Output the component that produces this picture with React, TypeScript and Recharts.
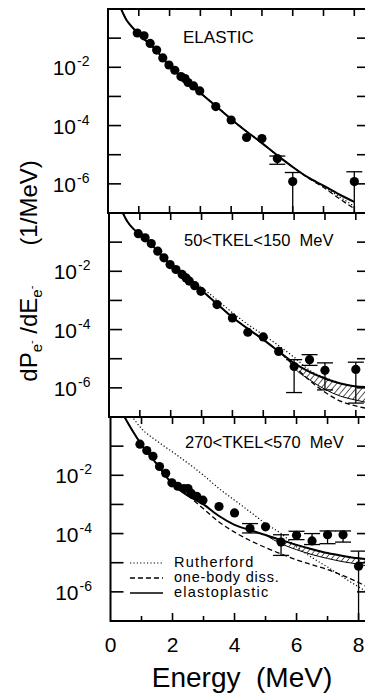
import React from 'react';
import { ComposedChart, Line, Scatter, Area, XAxis, YAxis, ErrorBar, ReferenceArea } from 'recharts';

// ---------- tick labels / texts ----------
const panelLabels = ['ELASTIC', '50<TKEL<150  MeV', '270<TKEL<570  MeV'];
const legendLabels = ['Rutherford', 'one-body diss.', 'elastoplastic'];
const xTicks = [1, 2, 3, 4, 5, 6, 7, 8];
const xLabelTicks = [0, 2, 4, 6, 8];
const yTicks = [1e-1, 1e-2, 1e-3, 1e-4, 1e-5, 1e-6];
const yLabelTicks = [1e-2, 1e-4, 1e-6];

// ---------- panel 1 : ELASTIC ----------
const elE = [0.95, 1.17, 1.37, 1.58, 1.78, 1.98, 2.17, 2.37, 2.5, 2.6, 2.78, 2.98, 3.5, 4.0, 4.5, 5.0, 5.5, 6.0, 8.0];
const elV = [1.5e-1, 1.2e-1, 6.6e-2, 3.9e-2, 2.1e-2, 1.2e-2, 7.9e-3, 4.8e-3, 4.1e-3, 3.0e-3, 2.3e-3, 1.55e-3, 4.5e-4, 1.55e-4, 3.9e-5, 3.6e-5, 7.4e-6, 1.2e-6, 1.2e-6];
const elErrLo = [null, null, null, null, null, null, null, null, null, null, null, null, null, null, null, null, 4.7e-6, 1e-7, 1e-7];
const elErrHi = [null, null, null, null, null, null, null, null, null, null, null, null, null, null, null, null, 9e-6, 2.45e-6, 2.6e-6];
const elCurveE = [0.4, 0.6, 0.8, 1, 1.5, 2, 2.5, 3, 3.5, 4, 4.5, 5, 5.5, 6, 6.5, 7, 7.5, 8];
const elSolid = [1.15, 0.42, 0.23, 0.138, 0.045, 0.0112, 3.5e-3, 1.32e-3, 4.7e-4, 1.66e-4, 6.3e-5, 2.5e-5, 9.5e-6, 3.8e-6, 1.66e-6, 8.7e-7, 4.4e-7, 2.4e-7];
const elDashed = [1.15, 0.42, 0.23, 0.138, 0.045, 0.0112, 3.5e-3, 1.32e-3, 4.7e-4, 1.66e-4, 6.3e-5, 2.5e-5, 9.5e-6, 3.8e-6, 1.6e-6, 7.6e-7, 3.2e-7, 1.4e-7];
const elDotted = [1.15, 0.42, 0.23, 0.138, 0.045, 0.0112, 3.5e-3, 1.32e-3, 4.7e-4, 1.66e-4, 6.3e-5, 2.5e-5, 9.5e-6, 3.8e-6, 1.62e-6, 8.0e-7, 3.7e-7, 1.7e-7];

// ---------- panel 2 : 50<TKEL<150 MeV ----------
const t1E = [0.95, 1.17, 1.37, 1.58, 1.78, 1.98, 2.17, 2.37, 2.5, 2.6, 2.78, 2.98, 3.5, 4.0, 4.5, 5.0, 5.5, 6.0, 6.5, 7.0, 8.0];
const t1V = [1.95e-1, 1.41e-1, 8.9e-2, 4.9e-2, 2.9e-2, 1.7e-2, 1.15e-2, 7.8e-3, 5.9e-3, 4.6e-3, 3.2e-3, 2.05e-3, 7.2e-4, 2.5e-4, 8.1e-5, 5.6e-5, 1.78e-5, 5.4e-6, 9.3e-6, 4.0e-6, 4.3e-6];
const t1ErrLo = [null, null, null, null, null, null, null, null, null, null, null, null, null, null, null, null, null, 6.9e-7, 5.9e-6, 8.5e-7, 3e-7];
const t1ErrHi = [null, null, null, null, null, null, null, null, null, null, null, null, null, null, null, null, null, 9.3e-6, 1.38e-5, 7.2e-6, 7.6e-6];
const t1CurveE = [0.42, 0.6, 0.8, 1, 1.5, 2, 2.5, 3, 3.5, 4, 4.5, 5, 5.5, 6, 6.5, 7, 7.5, 8, 8.33];
const t1Solid = [1.15, 0.5, 0.28, 0.19, 0.06, 0.0166, 6.3e-3, 2.24e-3, 7.6e-4, 2.63e-4, 1.07e-4, 4.5e-5, 1.78e-5, 7.1e-6, 3.55e-6, 2.1e-6, 1.41e-6, 1.12e-6, 1.07e-6];
const t1Dashed = [1.15, 0.5, 0.28, 0.19, 0.06, 0.0166, 6.3e-3, 2.24e-3, 7.6e-4, 2.63e-4, 1.07e-4, 4.5e-5, 1.78e-5, 5.6e-6, 1.8e-6, 7.1e-7, 3.5e-7, 2.4e-7, 2.0e-7];
const t1Dotted = [1.15, 0.5, 0.28, 0.19, 0.06, 0.0166, 7.1e-3, 2.8e-3, 1.05e-3, 3.8e-4, 1.5e-4, 6.6e-5, 2.8e-5, 1.12e-5, 4.0e-6, 2.24e-6, 1.48e-6, 1.12e-6, 1.07e-6];
const t1BandE = [5.8, 6, 6.5, 7, 7.5, 8, 8.33];
const t1BandLo = [1.0e-5, 5.0e-6, 1.9e-6, 8.9e-7, 5.2e-7, 3.8e-7, 3.2e-7];
const t1BandHi = [1.0e-5, 7.1e-6, 3.55e-6, 2.1e-6, 1.41e-6, 1.12e-6, 1.07e-6];

// ---------- panel 3 : 270<TKEL<570 MeV ----------
const t2E = [0.95, 1.17, 1.37, 1.58, 1.78, 1.98, 2.17, 2.37, 2.5, 2.6, 2.78, 2.98, 3.5, 4.0, 4.5, 5.0, 5.5, 6.0, 6.5, 7.0, 7.5, 8.0];
const t2V = [1.17e-1, 7.1e-2, 4.5e-2, 2.0e-2, 1.17e-2, 5.5e-3, 4.2e-3, 3.5e-3, 3.5e-3, 2.4e-3, 1.9e-3, 1.4e-3, 8.5e-4, 5.1e-4, 1.48e-4, 1.7e-4, 5.1e-5, 8.7e-5, 5.6e-5, 9.1e-5, 9.1e-5, 7.6e-6];
const t2ErrLo = [null, null, null, null, null, null, null, null, null, null, null, null, null, null, 1.05e-4, null, 1.78e-5, 6.2e-5, 4.2e-5, 4.5e-5, 5.1e-5, 1e-7];
const t2ErrHi = [null, null, null, null, null, null, null, null, null, null, null, null, null, null, 2.2e-4, null, 9.1e-5, 1.2e-4, 1.0e-4, 1.23e-4, 1.23e-4, 2.5e-5];
const t2CurveE = [0.42, 0.7, 1, 1.5, 2, 2.5, 3, 3.5, 4, 4.5, 5, 5.5, 6, 6.5, 7, 7.5, 8, 8.24];
const t2Solid = [1.15, 0.35, 0.112, 0.024, 5.0e-3, 2.0e-3, 1.0e-3, 4.0e-4, 2.0e-4, 1.32e-4, 8.9e-5, 6.0e-5, 4.1e-5, 2.9e-5, 2.14e-5, 1.7e-5, 1.41e-5, 1.32e-5];
const t2Dashed = [1.15, 0.35, 0.112, 0.024, 5.0e-3, 2.0e-3, 7.1e-4, 2.5e-4, 1.12e-4, 5.8e-5, 3.3e-5, 2.0e-5, 1.26e-5, 8.5e-6, 5.8e-6, 3.6e-6, 2.1e-6, 1.55e-6];
const t2DottedE = [0.68, 1, 1.5, 2, 2.5, 3, 3.5, 4, 4.5, 5, 5.5, 6, 6.5, 7, 7.5, 8, 8.24];
const t2Dotted = [1.1, 0.4, 0.15, 0.063, 0.026, 0.01, 3.5e-3, 1.4e-3, 5.6e-4, 2.2e-4, 1.0e-4, 3.5e-5, 1.5e-5, 7.1e-6, 3.2e-6, 1.48e-6, 1.05e-6];
const t2BandE = [5, 5.5, 6, 6.5, 7, 7.5, 8, 8.24];
const t2BandLo = [8.9e-5, 4.5e-5, 2.8e-5, 1.9e-5, 1.4e-5, 1.08e-5, 8.9e-6, 7.9e-6];
const t2BandHi = [8.9e-5, 6.0e-5, 4.1e-5, 2.9e-5, 2.14e-5, 1.7e-5, 1.41e-5, 1.32e-5];

// ---------- helpers to build library tables ----------
const mkPoints = (E: number[], V: number[], lo: (number | null)[], hi: (number | null)[]) =>
  E.map((x, i) => {
    const o: any = { x, y: V[i] };
    if (lo[i] != null && hi[i] != null) o.err = [V[i] - (lo[i] as number), (hi[i] as number) - V[i]];
    return o;
  });
const mkCurve = (E: number[], V: number[]) => E.map((x, i) => ({ x, y: V[i] }));
const mkBand = (E: number[], lo: number[], hi: number[]) => E.map((x, i) => ({ x, band: [lo[i], hi[i]] }));

const FONT = '"Liberation Sans", Arial, sans-serif';
const YDOM: [number, number] = [1e-7, 1];
const RIGHT = 366;
const PLOT_H = 204;

// panel frames (layout only)
const frames = [
  { top: 9, L: 108, xMax: 8.38, labels: false },
  { top: 213, L: 109, xMax: 8.33, labels: false },
  { top: 417, L: 110.5, xMax: 8.24, labels: true },
];

const yLabel = (p: any) => {
  const exp = Math.round(Math.log10(p.payload.value));
  return (
    <g>
      <text x={p.x - 32} y={p.y + 8} textAnchor="end" fontFamily={FONT} fontSize={21} fill="#000" stroke="none">10</text>
      <text x={p.x - 31} y={p.y - 1} textAnchor="start" fontFamily={FONT} fontSize={14} fill="#000" stroke="none">{String(exp)}</text>
    </g>
  );
};
const xLabel = (p: any) => (
  <text x={p.x} y={p.y + 31} textAnchor="middle" fontFamily={FONT} fontSize={21} fill="#000" stroke="none">{p.payload.value}</text>
);

const Dot = (p: any) => <circle cx={p.cx} cy={p.cy} r={4.6} fill="#000" />;

type PanelProps = {
  top: number;
  L: number;
  xMax: number;
  points: any[];
  solid: any[];
  dashed: any[];
  dotted: any[];
  band?: any[];
  bottomLabels?: boolean;
};

function Panel({ top, L, xMax, points, solid, dashed, dotted, band, bottomLabels }: PanelProps) {
  const bottomH = bottomLabels ? 72 : 10;
  const height = 10 + PLOT_H + bottomH;
  const xProps: any = { dataKey: 'x', type: 'number', domain: [0, xMax], allowDataOverflow: true, interval: 0, tickSize: 0, tickMargin: 0, tickLine: false, axisLine: false };
  const yProps: any = { dataKey: 'y', type: 'number', scale: 'log', domain: YDOM, allowDataOverflow: true, interval: 0, tickSize: 0, tickMargin: 0, tickLine: false, axisLine: false };
  return (
    <div style={{ position: 'absolute', left: 0, top }}>
      <ComposedChart width={370} height={height} margin={{ top: 10, right: 370 - RIGHT, bottom: 0, left: 0 }}>
        <XAxis xAxisId="b" {...xProps} orientation="bottom" height={bottomH} ticks={xLabelTicks}
          tick={bottomLabels ? xLabel : false} />
        <YAxis yAxisId="l" {...yProps} orientation="left" width={L} ticks={yLabelTicks} tick={yLabel} />

        <ReferenceArea xAxisId="b" yAxisId="l" x1={0} x2={xMax} y1={YDOM[0]} y2={YDOM[1]} ifOverflow="visible"
          fill="none" fillOpacity={0} stroke="#000" strokeWidth={2} />

        {band && (
          <Area xAxisId="b" yAxisId="l" data={band} dataKey="band" type="monotone" fill="url(#hatch)" fillOpacity={1}
            stroke="#000" strokeWidth={1} isAnimationActive={false} dot={false} activeDot={false} />
        )}
        <Line xAxisId="b" yAxisId="l" data={dotted} dataKey="y" type="monotone" stroke="#000" strokeWidth={1.2}
          strokeDasharray="1.2 2.2" dot={false} activeDot={false} isAnimationActive={false} />
        <Line xAxisId="b" yAxisId="l" data={dashed} dataKey="y" type="monotone" stroke="#000" strokeWidth={1.3}
          strokeDasharray="5 3" dot={false} activeDot={false} isAnimationActive={false} />
        <Line xAxisId="b" yAxisId="l" data={solid} dataKey="y" type="monotone" stroke="#000" strokeWidth={2}
          dot={false} activeDot={false} isAnimationActive={false} />
        <Scatter xAxisId="b" yAxisId="l" data={points} shape={<Dot />} fill="#000" isAnimationActive={false}>
          <ErrorBar dataKey="err" direction="y" width={8} stroke="#000" strokeWidth={1.3} />
        </Scatter>
      </ComposedChart>
    </div>
  );
}

// inward frame tick marks (axis furniture), placed from the tick value lists
function FrameTicks() {
  const items: React.ReactNode[] = [];
  frames.forEach((f, i) => {
    const kx = (RIGHT - f.L) / f.xMax;
    const dec = PLOT_H / 7;
    const bottom = f.top + PLOT_H;
    xTicks.forEach((v) => {
      const x = f.L + v * kx;
      const len = f.labels ? (v % 2 === 0 ? 8 : 5) : 7;
      items.push(<line key={`b${i}-${v}`} x1={x} y1={bottom} x2={x} y2={bottom - len} stroke="#000" strokeWidth={1.6} />);
      items.push(<line key={`t${i}-${v}`} x1={x} y1={f.top} x2={x} y2={f.top + 7} stroke="#000" strokeWidth={1.6} />);
    });
    yTicks.forEach((v) => {
      const y = f.top - Math.log10(v) * dec;
      items.push(<line key={`l${i}-${v}`} x1={f.L} y1={y} x2={f.L + 13} y2={y} stroke="#000" strokeWidth={1.6} />);
      items.push(<line key={`r${i}-${v}`} x1={RIGHT - 9} y1={y} x2={RIGHT} y2={y} stroke="#000" strokeWidth={1.6} />);
    });
  });
  return <g>{items}</g>;
}

export default function App() {
  return (
    <div style={{ position: 'absolute', left: 0, top: 0, width: 365, height: 693, overflow: 'hidden', background: '#fff' }}>
      <Panel top={frames[0].top - 10} L={frames[0].L} xMax={frames[0].xMax}
        points={mkPoints(elE, elV, elErrLo, elErrHi)}
        solid={mkCurve(elCurveE, elSolid)} dashed={mkCurve(elCurveE, elDashed)} dotted={mkCurve(elCurveE, elDotted)} />
      <Panel top={frames[1].top - 10} L={frames[1].L} xMax={frames[1].xMax}
        points={mkPoints(t1E, t1V, t1ErrLo, t1ErrHi)}
        solid={mkCurve(t1CurveE, t1Solid)} dashed={mkCurve(t1CurveE, t1Dashed)} dotted={mkCurve(t1CurveE, t1Dotted)}
        band={mkBand(t1BandE, t1BandLo, t1BandHi)} />
      <Panel top={frames[2].top - 10} L={frames[2].L} xMax={frames[2].xMax} bottomLabels
        points={mkPoints(t2E, t2V, t2ErrLo, t2ErrHi)}
        solid={mkCurve(t2CurveE, t2Solid)} dashed={mkCurve(t2CurveE, t2Dashed)} dotted={mkCurve(t2DottedE, t2Dotted)}
        band={mkBand(t2BandE, t2BandLo, t2BandHi)} />

      <svg width={365} height={693} style={{ position: 'absolute', left: 0, top: 0, pointerEvents: 'none' }}>
        <defs>
          <pattern id="hatch" patternUnits="userSpaceOnUse" width={4.5} height={4.5} patternTransform="rotate(40)">
            <rect x={0} y={0} width={4.5} height={4.5} fill="#fff" />
            <line x1={0} y1={0} x2={0} y2={4.5} stroke="#000" strokeWidth={1.3} />
          </pattern>
        </defs>
        <FrameTicks />
        {/* panel labels */}
        <text x={183} y={43} fontFamily={FONT} fontSize={17} fill="#000">{panelLabels[0]}</text>
        <text x={184} y={246} fontFamily={FONT} fontSize={16.5} fill="#000" xmlSpace="preserve" style={{ whiteSpace: 'pre' }}>{panelLabels[1]}</text>
        <text x={185} y={448} fontFamily={FONT} fontSize={16.5} fill="#000" xmlSpace="preserve" style={{ whiteSpace: 'pre' }}>{panelLabels[2]}</text>
        {/* legend */}
        <line x1={130} y1={563} x2={163} y2={563} stroke="#000" strokeWidth={1.2} strokeDasharray="1.2 2.2" />
        <line x1={130} y1={578} x2={163} y2={578} stroke="#000" strokeWidth={1.3} strokeDasharray="5 3" />
        <line x1={130} y1={593} x2={163} y2={593} stroke="#000" strokeWidth={1.6} />
        <text x={174} y={567} fontFamily={FONT} fontSize={14.5} letterSpacing={1.2} fill="#000">{legendLabels[0]}</text>
        <text x={174} y={582} fontFamily={FONT} fontSize={14.5} letterSpacing={0.8} fill="#000">{legendLabels[1]}</text>
        <text x={174} y={597} fontFamily={FONT} fontSize={14.5} letterSpacing={1.2} fill="#000">{legendLabels[2]}</text>
        {/* axis titles */}
        <text transform="translate(37,271) rotate(-90)" textAnchor="middle" fontFamily={FONT} fontSize={24} fill="#000"
          xmlSpace="preserve" style={{ whiteSpace: 'pre' }}>
          dP<tspan fontSize={15} dy={5}>e</tspan><tspan fontSize={11} dy={-7}>-</tspan><tspan fontSize={24} dy={2}> /dE</tspan><tspan fontSize={15} dy={5}>e</tspan><tspan fontSize={11} dy={-7}>-</tspan><tspan fontSize={24} dy={2}>      (1/MeV)</tspan>
        </text>
        <text x={242} y={687} textAnchor="middle" fontFamily={FONT} fontSize={28} fill="#000" xmlSpace="preserve" style={{ whiteSpace: 'pre' }}>Energy  (MeV)</text>
      </svg>
    </div>
  );
}
